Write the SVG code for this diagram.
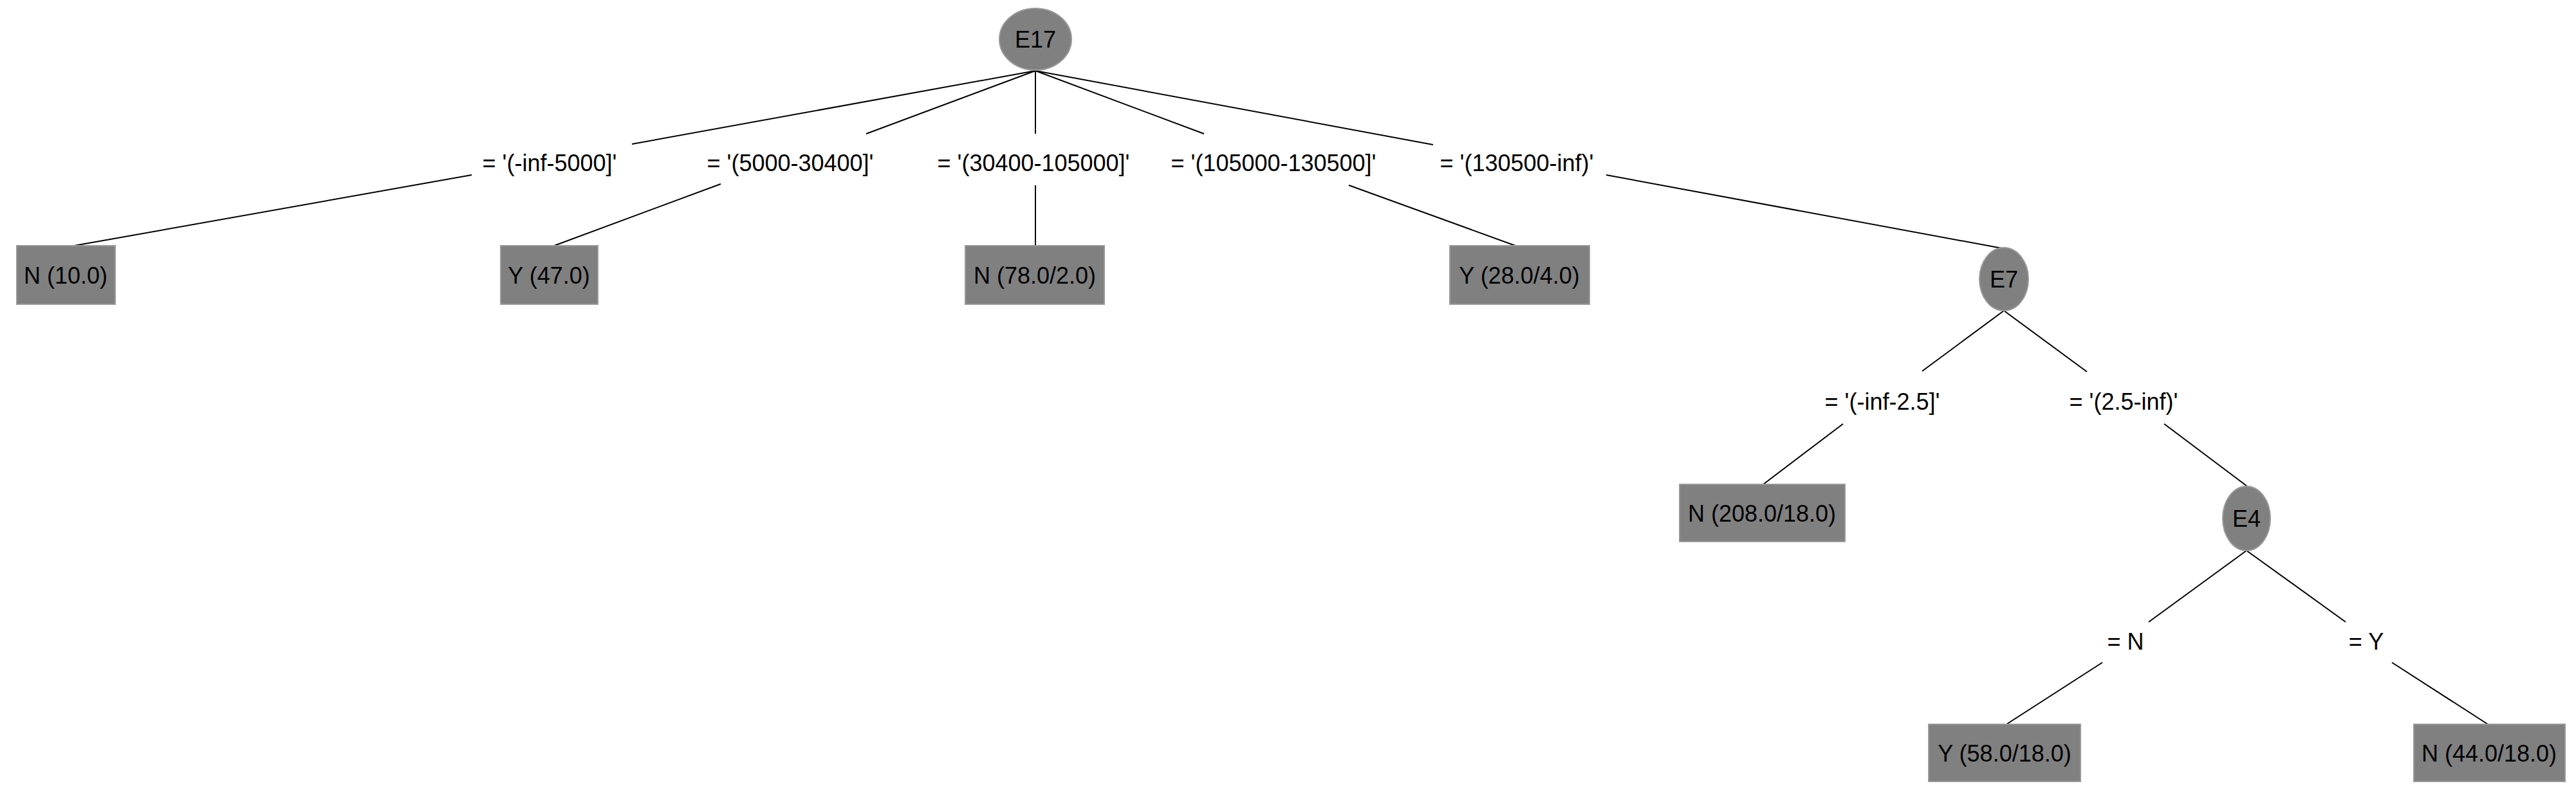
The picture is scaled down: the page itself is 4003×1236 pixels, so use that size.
<svg xmlns="http://www.w3.org/2000/svg" width="4003" height="1236" viewBox="0 0 4003 1236">
<style>
.n{fill:#808080;stroke:#9a9a9a;stroke-width:2}
text{font-family:"Liberation Sans",Arial,sans-serif;font-size:36px;fill:#000;text-anchor:middle;dominant-baseline:central}
.e line{stroke:#000;stroke-width:2}
</style>
<rect width="4003" height="1236" fill="#fff"/>
<g class="e" id="connectors">
<line x1="1609" y1="110" x2="982" y2="224"/>
<line x1="733" y1="272" x2="115" y2="382"/>
<line x1="1609" y1="110" x2="1346" y2="208"/>
<line x1="1120" y1="286" x2="861" y2="382"/>
<line x1="1609" y1="110" x2="1609" y2="208"/>
<line x1="1609" y1="288" x2="1609" y2="382"/>
<line x1="1609" y1="110" x2="1871" y2="208"/>
<line x1="2096" y1="288" x2="2355" y2="382"/>
<line x1="1609" y1="110" x2="2227" y2="225"/>
<line x1="2496" y1="272" x2="3111" y2="386"/>
<line x1="3114" y1="483" x2="2987" y2="577"/>
<line x1="2864" y1="659" x2="2740" y2="753"/>
<line x1="3114" y1="483" x2="3243" y2="578"/>
<line x1="3363" y1="659" x2="3492" y2="756"/>
<line x1="3491" y1="856" x2="3339" y2="967"/>
<line x1="3267" y1="1030" x2="3118" y2="1126"/>
<line x1="3491" y1="856" x2="3645" y2="967"/>
<line x1="3717" y1="1030" x2="3866" y2="1126"/>
</g>
<g id="edge-labels">
<text x="854" y="253">= '(-inf-5000]'</text>
<text x="1228" y="253">= '(5000-30400]'</text>
<text x="1606" y="253">= '(30400-105000]'</text>
<text x="1979" y="253">= '(105000-130500]'</text>
<text x="2357" y="253">= '(130500-inf)'</text>
<text x="2925" y="624">= '(-inf-2.5]'</text>
<text x="3300" y="624">= '(2.5-inf)'</text>
<text x="3303" y="997">= N</text>
<text x="3677" y="997">= Y</text>
</g>
<g id="E17"><ellipse class="n" cx="1609" cy="61" rx="56" ry="48"/><text x="1609" y="61">E17</text></g>
<g id="leaf1"><rect class="n" x="26" y="382" width="153" height="91"/><text x="102" y="428">N (10.0)</text></g>
<g id="leaf2"><rect class="n" x="778" y="382" width="151" height="91"/><text x="853" y="428">Y (47.0)</text></g>
<g id="leaf3"><rect class="n" x="1500" y="382" width="216" height="91"/><text x="1608" y="428">N (78.0/2.0)</text></g>
<g id="leaf4"><rect class="n" x="2253" y="382" width="217" height="91"/><text x="2361" y="428">Y (28.0/4.0)</text></g>
<g id="E7"><ellipse class="n" cx="3114" cy="434" rx="38" ry="49"/><text x="3114" y="434">E7</text></g>
<g id="leaf5"><rect class="n" x="2610" y="753" width="257" height="89"/><text x="2738" y="798">N (208.0/18.0)</text></g>
<g id="E4"><ellipse class="n" cx="3491" cy="806" rx="37" ry="50"/><text x="3491" y="806">E4</text></g>
<g id="leaf6"><rect class="n" x="2997" y="1126" width="236" height="89"/><text x="3115" y="1171">Y (58.0/18.0)</text></g>
<g id="leaf7"><rect class="n" x="3751" y="1126" width="235" height="89"/><text x="3868" y="1171">N (44.0/18.0)</text></g>
</svg>
